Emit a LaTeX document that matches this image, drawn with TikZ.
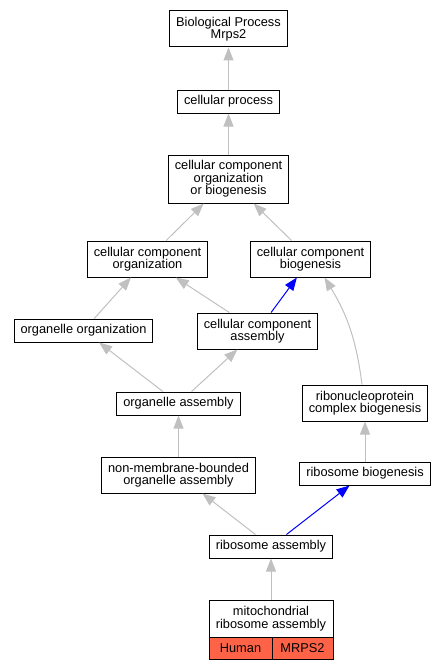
\documentclass[tikz,border=0pt]{standalone}
\usepackage{fontspec}
\setmainfont{Liberation Sans}
\usetikzlibrary{arrows.meta}

\definecolor{edgegray}{RGB}{192,192,192}
\definecolor{genefill}{RGB}{255,99,71}

\begin{document}
\begin{tikzpicture}[x=1pt,y=-1pt,>={Triangle[length=13pt,width=10pt]},
    term node/.style={rectangle,draw,line width=1pt,align=center,inner xsep=6.5pt,inner ysep=0pt,minimum height=23pt,font=\fontsize{12.8}{12.5}\selectfont},
    two lines/.style={minimum height=36pt},
    three lines/.style={minimum height=48pt},
    gene cell/.style={rectangle,draw,fill=genefill,line width=1pt,inner sep=0pt,outer sep=0pt,minimum height=22pt,font=\fontsize{12.8}{12.5}\selectfont},
    is a/.style={->,edgegray,line width=1pt},
    key path/.style={->,blue,line width=1pt}]
    \useasboundingbox (0,0) rectangle (444,669);

    \node[term node,two lines] (bp) at (228.5,29) {Biological Process\\Mrps2};
    \node[term node] (cp) at (228.5,101.5) {cellular process};
    \node[term node,three lines] (ccob) at (228.5,179) {cellular component\\organization\\or biogenesis};
    \node[term node,two lines] (cco) at (147.5,259) {cellular component\\organization};
    \node[term node,two lines] (ccb) at (310.5,259) {cellular component\\biogenesis};
    \node[term node] (oo) at (83.5,330.5) {organelle organization};
    \node[term node,two lines] (cca) at (257.5,331) {cellular component\\assembly};
    \node[term node] (oa) at (178.5,403.5) {organelle assembly};
    \node[term node,two lines] (rnp) at (365,403) {ribonucleoprotein\\complex biogenesis};
    \node[term node,two lines] (nmboa) at (178.5,475) {non-membrane-bounded\\organelle assembly};
    \node[term node] (rb) at (365,473.5) {ribosome biogenesis};
    \node[term node] (ra) at (271,546.5) {ribosome assembly};
    \node[term node,outer sep=0pt,minimum width=124pt,minimum height=37pt] (mito) at (271,618.5) {mitochondrial\\ribosome assembly};
    \node[gene cell,anchor=north west,minimum width=63pt] (human) at (mito.south west) {Human};
    \node[gene cell,anchor=north east,minimum width=61pt] (mrps) at (mito.south east) {MRPS2};

    \path[is a]
        (cp) edge (bp)
        (ccob) edge (cp)
        (cco) edge (ccob)
        (ccb) edge (ccob)
        (oo) edge (cco)
        (cca) edge (cco)
        (oa) edge (oo)
        (oa) edge (cca)
        (nmboa) edge (oa)
        (rb) edge (rnp)
        (ra) edge (nmboa)
        (mito) edge (ra)
        ([xshift=-3pt]rnp.north) edge[bend right=12] ([xshift=14pt]ccb.south)
        ;
    \draw[key path] (cca) -- (ccb);
    \draw[key path] (ra) -- (rb);
\end{tikzpicture}
\end{document}
